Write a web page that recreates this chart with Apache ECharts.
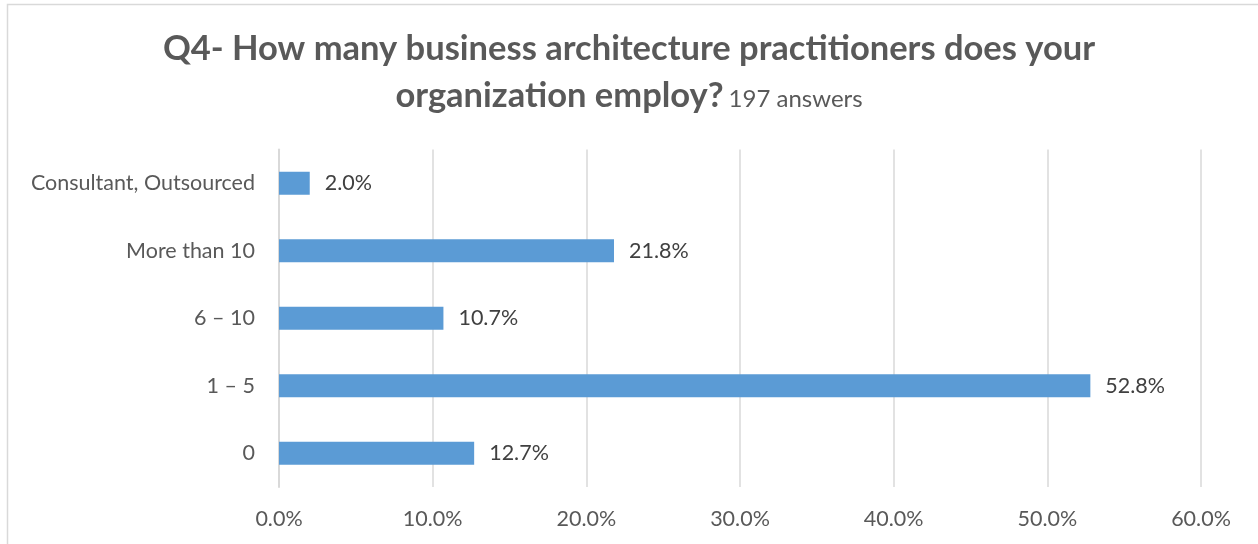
<!DOCTYPE html>
<html>
<head>
<meta charset="utf-8">
<style>
  html, body { margin: 0; padding: 0; background: #ffffff; }
  #chart { width: 1258px; height: 544px; }
</style>
<script src="https://cdn.jsdelivr.net/npm/echarts@6/dist/echarts.min.js"></script>
</head>
<body>
<div id="chart"></div>
<script>
// Survey answers, bottom to top
const categories = ['0', '1 – 5', '6 – 10', 'More than 10', 'Consultant, Outsourced'];
const shares = [12.7, 52.8, 10.7, 21.8, 2.0];
const axisTicks = [0, 10, 20, 30, 40, 50, 60];

const FONT = 'Lato, "Open Sans", sans-serif';
const chart = echarts.init(document.getElementById('chart'), null, { renderer: 'canvas' });

chart.setOption({
  backgroundColor: '#ffffff',
  animation: false,
  graphic: [{
    type: 'rect',
    silent: true,
    shape: { x: 7.5, y: 4.5, width: 1300, height: 600 },
    style: { fill: 'none', stroke: '#d9d9d9', lineWidth: 1.5 }
  }],
  title: [{
    text: 'Q4- How many business architecture practitioners does your',
    left: 'center',
    top: 26,
    textStyle: { fontFamily: FONT, fontSize: 34.5, fontWeight: 'bold', color: '#595959' }
  }, {
    text: '{b|organization employ?} {s|197 answers}',
    left: 'center',
    top: 73,
    textStyle: {
      rich: {
        b: { fontFamily: FONT, fontSize: 34.5, fontWeight: 'bold', color: '#595959' },
        s: { fontFamily: FONT, fontSize: 24, fontWeight: 'normal', color: '#595959', padding: [7, 0, 0, 0] }
      }
    }
  }],
  grid: { left: 279, right: 57, top: 149.5, bottom: 57 },
  xAxis: {
    type: 'value',
    min: axisTicks[0],
    max: axisTicks[axisTicks.length - 1],
    interval: 10,
    axisLine: { show: false },
    axisTick: { show: false },
    splitLine: { lineStyle: { color: '#d9d9d9', width: 1.5 } },
    axisLabel: {
      margin: 21,
      fontFamily: FONT, fontSize: 21.5, color: '#595959',
      formatter: v => v.toFixed(1) + '%'
    }
  },
  yAxis: {
    type: 'category',
    data: categories,
    axisLine: { show: true, lineStyle: { color: '#d9d9d9', width: 2 } },
    axisTick: { show: false },
    axisLabel: { margin: 24, fontFamily: FONT, fontSize: 21.5, color: '#595959' }
  },
  series: [{
    type: 'bar',
    data: shares,
    barWidth: 23,
    itemStyle: { color: '#5b9bd5' },
    label: {
      show: true,
      position: 'right',
      distance: 15,
      fontFamily: FONT, fontSize: 21.5, color: '#404040',
      formatter: p => p.value.toFixed(1) + '%'
    }
  }]
});
</script>
</body>
</html>
